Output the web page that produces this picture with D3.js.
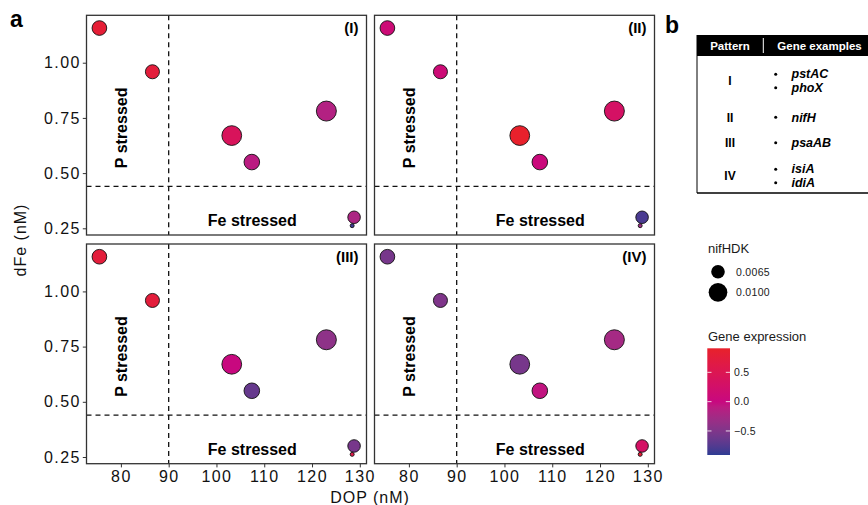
<!DOCTYPE html>
<html>
<head>
<meta charset="utf-8">
<title>DOP vs dFe patterns</title>
<style>
  body { margin: 0; background: #fff; }
  svg { font-family: "Liberation Sans", Arial, sans-serif; }
  .frame { fill: none; stroke: #333; stroke-width: 1.3px; }
  .guide { stroke: #111; stroke-width: 1.3px; stroke-dasharray: 5,4; fill: none; }
  .tick-lab { font-size: 16px; letter-spacing: 1.4px; fill: #111; }
  .stress { font-size: 16px; font-weight: bold; fill: #000; }
  .pattern-lab { font-size: 15px; font-weight: bold; fill: #000; }
  .legend-title { font-size: 13px; fill: #1a1a1a; }
  .legend-lab { font-size: 10.5px; letter-spacing: 0.3px; fill: #1a1a1a; }
</style>
</head>
<body>
<svg id="chart" width="868" height="505"></svg>
<script src="https://d3js.org/d3.v7.min.js"></script>
<script>
// stations (same in every panel)
const dop    = [75.5, 86.6, 103.2, 107.4, 123.0, 128.8, 128.4];
const dfe    = [1.157, 0.959, 0.670, 0.550, 0.781, 0.300, 0.262];
const nifhdk = [0.0072, 0.0068, 0.0108, 0.0078, 0.0110, 0.0059, 0.0020];

// gene expression per pattern panel
const patterns = ["(I)", "(II)", "(III)", "(IV)"];
const exprI   = [0.80, 0.75, 0.40, -0.10, -0.15, -0.20, -0.85];
const exprII  = [0.10, 0.10, 0.90, 0.05, 0.30, -0.80, -0.30];
const exprIII = [0.75, 0.75, 0.00, -0.65, -0.40, -0.55, 0.60];
const exprIV  = [-0.55, -0.50, -0.55, -0.05, -0.25, 0.30, 0.80];
const expr = [exprI, exprII, exprIII, exprIV];

const xTicks = [80, 90, 100, 110, 120, 130];
const yTicks = [0.25, 0.50, 0.75, 1.00];
const dopLimit = 90, dfeLimit = 0.44;

const sizeBreaks = [0.0065, 0.0100];
const colorBreaks = [0.5, 0.0, -0.5];

// table in panel b
const tableRows = ["I", "II", "III", "IV"];
const tableGenes = [["pstAC", "phoX"], ["nifH"], ["psaAB"], ["isiA", "idiA"]];

const svg = d3.select("#chart");

const pw = 280, ph = 219.7;
const lefts = [86.5, 374.5], tops = [15.3, 244];

const x = d3.scaleLinear().domain([72.8, 131.4]).range([0, pw]);
const y = d3.scaleLinear().domain([0.2197, 1.2147]).range([ph, 0]);
const r = d3.scaleSqrt().domain([0.002, 0.011]).range([2, 10]);
const color = d3.scaleLinear()
  .domain([-0.91, 0, 0.91])
  .range(["#2d3c93", "#c8087f", "#e8212b"])
  .interpolate(d3.interpolateLab);

patterns.forEach((lab, i) => {
  const col = i % 2, row = Math.floor(i / 2);
  const g = svg.append("g").attr("transform", `translate(${lefts[col]},${tops[row]})`);

  g.append("line").attr("class", "guide")
    .attr("x1", x(dopLimit)).attr("x2", x(dopLimit)).attr("y1", 0).attr("y2", ph);
  g.append("line").attr("class", "guide")
    .attr("x1", 0).attr("x2", pw).attr("y1", y(dfeLimit)).attr("y2", y(dfeLimit));

  g.append("text").attr("class", "stress")
    .attr("transform", `translate(${x(80) + 6},${y(0.705)}) rotate(-90)`)
    .attr("text-anchor", "middle").text("P stressed");
  g.append("text").attr("class", "stress")
    .attr("x", x(107.5)).attr("y", y(0.288) + 6)
    .attr("text-anchor", "middle").text("Fe stressed");

  g.selectAll("circle").data(dop).join("circle")
    .attr("cx", (d) => x(d))
    .attr("cy", (d, j) => y(dfe[j]))
    .attr("r", (d, j) => r(nifhdk[j]))
    .attr("fill", (d, j) => color(expr[i][j]))
    .attr("stroke", "#111").attr("stroke-width", 0.9);

  g.append("text").attr("class", "pattern-lab")
    .attr("x", pw - 8).attr("y", 18).attr("text-anchor", "end").text(lab);

  g.append("rect").attr("class", "frame").attr("width", pw).attr("height", ph);

  if (col === 0) {
    const ya = g.append("g").call(d3.axisLeft(y).tickValues(yTicks)
      .tickFormat(d3.format(".2f")).tickSize(3.7).tickPadding(2));
    ya.select(".domain").remove();
    ya.selectAll("line").attr("stroke", "#333");
    ya.selectAll("text").attr("class", "tick-lab").attr("font-family", null).attr("font-size", null)
      .attr("fill", null);
  }
  if (row === 1) {
    const xa = g.append("g").attr("transform", `translate(0,${ph})`)
      .call(d3.axisBottom(x).tickValues(xTicks).tickSize(3.7).tickPadding(3));
    xa.select(".domain").remove();
    xa.selectAll("line").attr("stroke", "#333");
    xa.selectAll("text").attr("class", "tick-lab").attr("font-family", null).attr("font-size", null)
      .attr("fill", null);
  }
});

// axis titles
svg.append("text").attr("class", "tick-lab").style("letter-spacing", "1px")
  .attr("x", 370).attr("y", 503).attr("text-anchor", "middle").text("DOP (nM)");
svg.append("text").attr("class", "tick-lab").style("letter-spacing", "1px")
  .attr("transform", "translate(26,240) rotate(-90)")
  .attr("text-anchor", "middle").text("dFe (nM)");

// panel letters
svg.append("text").attr("x", 10).attr("y", 27).attr("font-size", 23).attr("font-weight", "bold").text("a");
svg.append("text").attr("x", 665).attr("y", 33).attr("font-size", 23).attr("font-weight", "bold").text("b");

// size legend
svg.append("text").attr("class", "legend-title").attr("x", 708).attr("y", 253).text("nifHDK");
svg.selectAll(".size-key").data(sizeBreaks).join("circle").attr("class", "size-key")
  .attr("cx", 718).attr("cy", (d, i) => 271.7 + i * 20.6)
  .attr("r", (d) => r(d)).attr("fill", "#000");
svg.selectAll(".size-lab").data(sizeBreaks).join("text").attr("class", "legend-lab size-lab")
  .attr("x", 736).attr("y", (d, i) => 275.5 + i * 20.6)
  .text((d) => d3.format(".4f")(d));

// colour legend
svg.append("text").attr("class", "legend-title").attr("x", 708).attr("y", 341).text("Gene expression");
const cb = d3.scaleLinear().domain([0.91, -0.91]).range([348.3, 455]);
const defs = svg.append("defs");
const grad = defs.append("linearGradient").attr("id", "expr-grad")
  .attr("x1", 0).attr("x2", 0).attr("y1", 0).attr("y2", 1);
d3.range(0, 1.0001, 0.05).forEach((t) => {
  const v = 0.91 - t * 1.82;
  grad.append("stop").attr("offset", t).attr("stop-color", color(v));
});
svg.append("rect").attr("x", 707.3).attr("y", cb(0.91)).attr("width", 22.7)
  .attr("height", cb(-0.91) - cb(0.91)).attr("fill", "url(#expr-grad)");
colorBreaks.forEach((v) => {
  svg.append("line").attr("x1", 707.3).attr("x2", 711.5).attr("y1", cb(v)).attr("y2", cb(v))
    .attr("stroke", "#fff").attr("stroke-opacity", 0.8).attr("stroke-width", 1);
  svg.append("line").attr("x1", 725.8).attr("x2", 730).attr("y1", cb(v)).attr("y2", cb(v))
    .attr("stroke", "#fff").attr("stroke-opacity", 0.8).attr("stroke-width", 1);
  svg.append("text").attr("class", "legend-lab").attr("x", 734).attr("y", cb(v) + 3.8)
    .text(v < 0 ? "\u2212" + Math.abs(v).toFixed(1) : v.toFixed(1));
});

// table b
const tb = svg.append("g");
const tx0 = 697, tx1 = 870, ty0 = 35, ty1 = 193, th = 21;
tb.append("rect").attr("x", tx0).attr("y", ty0).attr("width", tx1 - tx0).attr("height", th).attr("fill", "#000");
tb.append("line").attr("x1", 763.3).attr("x2", 763.3).attr("y1", ty0 + 3).attr("y2", ty0 + th - 3)
  .attr("stroke", "#fff").attr("stroke-width", 1);
tb.append("text").attr("x", 730).attr("y", ty0 + 14.5).attr("text-anchor", "middle")
  .attr("font-size", 11.5).attr("font-weight", "bold").attr("fill", "#fff").text("Pattern");
tb.append("text").attr("x", 819.5).attr("y", ty0 + 14.5).attr("text-anchor", "middle")
  .attr("font-size", 11.5).attr("font-weight", "bold").attr("fill", "#fff").text("Gene examples");
tb.append("line").attr("x1", tx0).attr("x2", tx0).attr("y1", ty0).attr("y2", ty1)
  .attr("stroke", "#000").attr("stroke-width", 1);
tb.append("line").attr("x1", tx0).attr("x2", tx1).attr("y1", ty1).attr("y2", ty1)
  .attr("stroke", "#000").attr("stroke-width", 1.6);

const rowCenters = [81, 117.3, 142.7, 176];
tableRows.forEach((lab, i) => {
  tb.append("text").attr("x", 730).attr("y", rowCenters[i] + 4.3).attr("text-anchor", "middle")
    .attr("font-size", 12).attr("font-weight", "bold").text(lab);
  const genes = tableGenes[i];
  genes.forEach((gname, k) => {
    const yc = rowCenters[i] + (k - (genes.length - 1) / 2) * 13.6;
    tb.append("circle").attr("cx", 775.7).attr("cy", yc).attr("r", 1.5).attr("fill", "#000");
    tb.append("text").attr("x", 791.5).attr("y", yc + 4.2)
      .attr("font-size", 12.5).attr("font-weight", "bold").attr("font-style", "italic").text(gname);
  });
});
</script>
</body>
</html>
